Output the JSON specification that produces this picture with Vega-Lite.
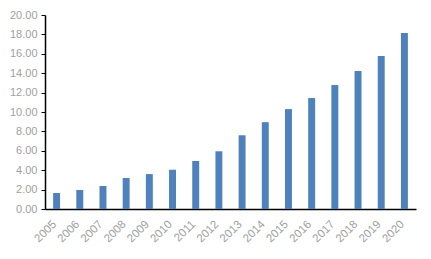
{
  "$schema": "https://vega.github.io/schema/vega-lite/v6.json",
  "width": 371,
  "height": 194,
  "autosize": "none",
  "padding": {"left": 45, "top": 15, "right": 15, "bottom": 50},
  "background": "white",
  "config": {"view": {"stroke": null}},
  "data": {"values": [
    {"year": "2005", "value": 1.65},
    {"year": "2006", "value": 1.96},
    {"year": "2007", "value": 2.37},
    {"year": "2008", "value": 3.2},
    {"year": "2009", "value": 3.6},
    {"year": "2010", "value": 4.05},
    {"year": "2011", "value": 4.95},
    {"year": "2012", "value": 5.95},
    {"year": "2013", "value": 7.6},
    {"year": "2014", "value": 8.95},
    {"year": "2015", "value": 10.3},
    {"year": "2016", "value": 11.44},
    {"year": "2017", "value": 12.78},
    {"year": "2018", "value": 14.23},
    {"year": "2019", "value": 15.77},
    {"year": "2020", "value": 18.14}
  ]},
  "mark": {"type": "bar", "color": "#4f81bd"},
  "encoding": {
    "x": {
      "field": "year", "type": "ordinal",
      "scale": {"paddingInner": 0.7, "paddingOuter": 0.35},
      "axis": {
        "title": null, "labelAngle": -45, "ticks": false,
        "domainColor": "#000000", "domainWidth": 1.5,
        "labelColor": "#a0a0a0", "labelFont": "Liberation Sans", "labelFontSize": 11.5,
        "labelPadding": 9, "labelOffset": -6
      }
    },
    "y": {
      "field": "value", "type": "quantitative",
      "scale": {"domain": [0, 20]},
      "axis": {
        "title": null, "values": [0,2,4,6,8,10,12,14,16,18,20], "format": ".2f",
        "grid": false, "domainColor": "#000000", "domainWidth": 1.5,
        "tickColor": "#000000", "tickSize": 4,
        "labelColor": "#a0a0a0", "labelFont": "Liberation Sans", "labelFontSize": 11,
        "labelPadding": 4
      }
    }
  }
}
